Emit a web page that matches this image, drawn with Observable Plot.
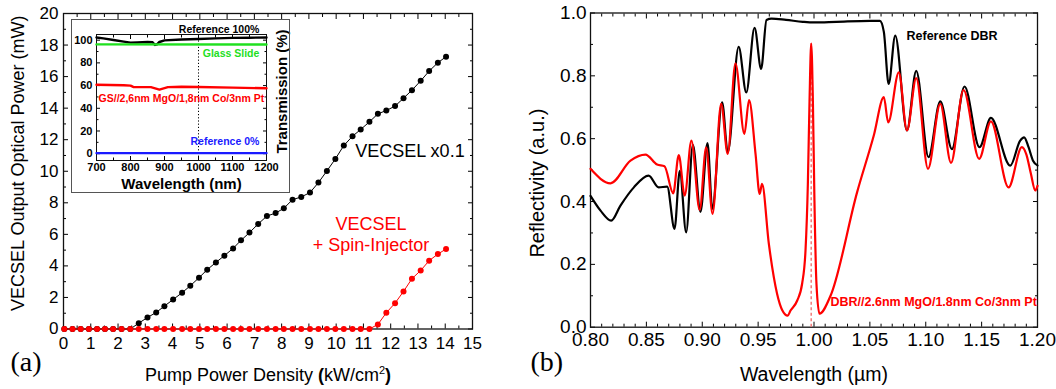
<!DOCTYPE html>
<html><head><meta charset="utf-8">
<script src="https://cdn.jsdelivr.net/npm/d3@7"></script>
<script src="https://cdn.jsdelivr.net/npm/@observablehq/plot@0.6"></script>
<style>
body{margin:0;background:#fff;}
#root{position:relative;width:1056px;height:389px;overflow:hidden;background:#fff;font-family:"Liberation Sans",Arial,sans-serif;}
.abs{position:absolute;}
svg{overflow:visible;}
</style></head><body><div id="root"></div>
<script>
// ---------- Panel (a): VECSEL output power vs pump power density ----------
const pump = [0.03,0.33,0.63,0.93,1.23,1.52,1.82,2.13,2.45,2.76,3.08,3.40,3.70,4.02,4.35,4.65,4.97,5.27,5.59,5.90,6.22,6.51,6.82,7.14,7.46,7.78,8.08,8.40,8.72,9.04,9.35,9.66,9.97,10.28,10.60,10.90,11.22,11.53,11.84,12.16,12.47,12.78,13.10,13.41,13.73,14.03];
const vecselPower = [0,0,0,0,0,0,0,0,0,0.37,0.73,1.05,1.45,1.87,2.30,2.74,3.25,3.76,4.22,4.65,5.11,5.62,6.11,6.66,7.16,7.35,7.65,8.20,8.37,8.65,9.28,10.02,10.78,11.63,12.22,12.65,13.13,13.64,13.85,14.13,14.63,15.14,15.73,16.35,16.88,17.26];
const spinPower = [0,0,0,0,0,0,0,0,0,0,0,0,0,0,0,0,0,0,0,0,0,0,0,0,0,0,0,0,0,0,0,0,0,0,0,0,0,0.29,1.03,1.64,2.38,3.19,3.71,4.33,4.75,5.07];
const aXTicks = [0,1,2,3,4,5,6,7,8,9,10,11,12,13,14,15];
const aYTicks = [0,2,4,6,8,10,12,14,16,18,20];

// ---------- Inset: transmission ----------
const ref100Wl = [700,720,750,780,800,820,850,865,872,878,885,900,950,1000,1050,1100,1150,1200];
const ref100T  = [102.4,101.6,100.2,98.7,97.8,98.0,98.4,98.2,95.8,96.4,98.4,99.8,100.6,101.1,101.6,102.0,102.2,102.3];
const glassWl = [700,1200];
const glassT  = [96.3,96.2];
const gsWl = [700,780,800,808,860,885,910,950,1000,1100,1200];
const gsT  = [60.7,60.3,60.0,58.8,58.6,56.5,58.6,59.0,58.7,58.2,57.6];
const ref0Wl = [700,1200];
const ref0T  = [0.5,0.5];
const insetXTicks = [700,800,900,1000,1100,1200];
const insetYTicks = [0,20,40,60,80,100];

// ---------- Panel (b): reflectivity spectra ----------
const refWl = [0.800,0.809,0.8185,0.8268,0.8388,0.852,0.861,0.8686,0.8752,0.8799,0.8856,0.8916,0.8984,0.9047,0.9090,0.9178,0.9228,0.9326,0.9394,0.9468,0.9527,0.9575,0.962,0.975,0.99,1.00,1.02,1.05,1.059,1.0625,1.0668,1.0727,1.0832,1.0915,1.1025,1.113,1.1234,1.1347,1.1481,1.1583,1.1756,1.1845,1.188,1.192,1.196,1.200];
const refR  = [0.418,0.371,0.339,0.387,0.445,0.4825,0.445,0.4475,0.313,0.498,0.302,0.58,0.367,0.586,0.377,0.716,0.557,0.892,0.747,0.953,0.822,0.978,0.982,0.978,0.972,0.970,0.972,0.975,0.975,0.94,0.774,0.928,0.626,0.816,0.541,0.719,0.567,0.766,0.573,0.666,0.514,0.594,0.604,0.573,0.53,0.515];
const spinWl = [0.800,0.8179,0.8358,0.8492,0.8596,0.8662,0.874,0.879,0.8843,0.8903,0.8977,0.9035,0.9092,0.9169,0.9228,0.9297,0.9377,0.9419,0.9477,0.9514,0.9535,0.9596,0.967,0.9715,0.9765,0.979,0.985,0.9894,0.9924,0.9945,0.996,0.9975,0.999,1.0004,1.0022,1.0049,1.0148,1.0386,1.0535,1.0625,1.0664,1.0759,1.0832,1.0915,1.102,1.113,1.1226,1.1338,1.1478,1.1583,1.1741,1.186,1.190,1.194,1.198,1.200];
const spinR  = [0.504,0.458,0.530,0.549,0.5175,0.512,0.426,0.548,0.419,0.594,0.373,0.5725,0.3606,0.7105,0.5515,0.84,0.615,0.723,0.551,0.424,0.456,0.265,0.106,0.055,0.037,0.053,0.085,0.139,0.244,0.456,0.721,0.903,0.721,0.403,0.138,0.043,0.10,0.43,0.61,0.732,0.652,0.811,0.626,0.793,0.504,0.711,0.523,0.755,0.536,0.655,0.445,0.573,0.55,0.49,0.435,0.45];
const bXTicks = [0.80,0.85,0.90,0.95,1.00,1.05,1.10,1.15,1.20];
const bYTicks = [0.0,0.2,0.4,0.6,0.8,1.0];

const SANS = "Liberation Sans, Arial, sans-serif";

function boxAxes({xMajor, xMinor, yMajor, yMinor, xFmt, yFmt, major, minor, fontSize, xGap, yGap, fontWeight}) {
  const none = () => "";
  return [
    Plot.axisX({ticks: xMajor, anchor: "bottom", tickSize: -major, tickPadding: xGap + major, tickFormat: xFmt, label: null, fontSize, fontWeight}),
    Plot.axisX({ticks: xMinor, anchor: "bottom", tickSize: -minor, tickFormat: none, label: null}),
    Plot.axisX({ticks: xMajor, anchor: "top", tickSize: -major, tickFormat: none, label: null}),
    Plot.axisX({ticks: xMinor, anchor: "top", tickSize: -minor, tickFormat: none, label: null}),
    Plot.axisY({ticks: yMajor, anchor: "left", tickSize: -major, tickPadding: yGap + major, tickFormat: yFmt, label: null, fontSize, fontWeight}),
    Plot.axisY({ticks: yMinor, anchor: "left", tickSize: -minor, tickFormat: none, label: null}),
    Plot.axisY({ticks: yMajor, anchor: "right", tickSize: -major, tickFormat: none, label: null}),
    Plot.axisY({ticks: yMinor, anchor: "right", tickSize: -minor, tickFormat: none, label: null})
  ];
}

const root = document.getElementById("root");
function place(el, left, top, extra) {
  const d = document.createElement("div");
  d.className = "abs";
  d.style.left = left + "px"; d.style.top = top + "px";
  if (extra) Object.assign(d.style, extra);
  d.appendChild(el);
  root.appendChild(d);
  return d;
}

// ---- Panel (a)
const rowsA = pump.map((p, i) => ({pump: p, vecsel: vecselPower[i], spin: spinPower[i]}));
const xLabelA = "Pump Power Density (kW/cm²)";
const A = Plot.plot({
  width: 520, height: 389,
  marginLeft: 63, marginRight: 48, marginTop: 13, marginBottom: 60.5,
  x: {domain: [0, 15]}, y: {domain: [0, 20]},
  style: {fontFamily: SANS, fontSize: "17px", color: "#000", background: "transparent", overflow: "visible"},
  marks: [
    ...boxAxes({xMajor: aXTicks, xMinor: d3.range(0.5, 15, 1), yMajor: aYTicks, yMinor: d3.range(1, 20, 2),
      xFmt: d3.format("d"), yFmt: d3.format("d"), major: 5, minor: 3, fontSize: 17, xGap: 8, yGap: 5}),
    Plot.frame({stroke: "#111", strokeWidth: 1.3}),
    Plot.line(rowsA, {x: "pump", y: "vecsel", stroke: "#000", strokeWidth: 1}),
    Plot.dot(rowsA, {x: "pump", y: "vecsel", fill: "#000", r: 3}),
    Plot.line(rowsA, {x: "pump", y: "spin", stroke: "#ff0000", strokeWidth: 1}),
    Plot.dot(rowsA, {x: "pump", y: "spin", fill: "#ff0000", r: 3}),
    Plot.text(["VECSEL x0.1"], {x: 10.7, y: 10.9, textAnchor: "start", lineAnchor: "bottom", fontSize: 18, fill: "#000"}),
    Plot.text(["VECSEL\n+ Spin-Injector"], {x: 11.28, y: 4.94, textAnchor: "middle", lineAnchor: "bottom", lineHeight: 1.15, fontSize: 18, fill: "#ff0000"}),
    Plot.text(["VECSEL Output Optical Power (mW)"], {frameAnchor: "left", rotate: -90, dx: -45, dy: -8, fontSize: 18, textAnchor: "middle", lineAnchor: "middle"}),
    Plot.text([xLabelA], {frameAnchor: "bottom", dy: 51.5, textAnchor: "middle", lineAnchor: "bottom", fontSize: 18}),
    Plot.text(["(a)"], {frameAnchor: "bottom-left", dx: -53, dy: 41.5, textAnchor: "start", lineAnchor: "bottom", fontSize: 28, fontFamily: "Liberation Serif, Times New Roman, serif"})
  ]
});
for (const t of A.querySelectorAll("text")) {
  if (t.textContent === xLabelA) {
    t.innerHTML = 'Pump Power Density <tspan font-weight="bold">(</tspan>kW/cm<tspan font-size="11" dy="-7">2</tspan><tspan font-weight="bold" dy="7">)</tspan>';
  }
}
place(A, 0, 0, {width: "520px"});

// ---- Inset
const seriesInset = [
  {wl: ref100Wl, t: ref100T, color: "#000000"},
  {wl: glassWl, t: glassT, color: "#1fe01f"},
  {wl: gsWl, t: gsT, color: "#ff0000"},
  {wl: ref0Wl, t: ref0T, color: "#1a1aff"}
];
const rowsInset = seriesInset.flatMap((s, k) => s.wl.map((w, i) => ({wl: w, t: s.t[i], k})));
const insetLabelsRight = [
  {text: "Reference 100%", x: 1179, y: 106.6, color: "#000000"},
  {text: "Glass Slide", x: 1179, y: 84.8, color: "#1fe01f"},
  {text: "Reference 0%", x: 1179, y: 7.3, color: "#1a1aff"}
];
const insetLabelsLeft = [
  {text: "GS//2,6nm MgO/1,8nm Co/3nm Pt", x: 706, y: 45.4, color: "#ff0000"}
];
const I = Plot.plot({
  width: 217, height: 172,
  marginLeft: 24, marginRight: 23, marginTop: 14, marginBottom: 32,
  x: {domain: [700, 1200]}, y: {domain: [-6, 105]},
  style: {fontFamily: SANS, fontSize: "11px", fontWeight: "bold", color: "#000", background: "#fff", overflow: "visible"},
  marks: [
    Plot.ruleX([1000], {stroke: "#000", strokeWidth: 1, strokeDasharray: "1.2,2"}),
    ...boxAxes({xMajor: insetXTicks, xMinor: d3.range(750, 1200, 100), yMajor: insetYTicks, yMinor: d3.range(10, 100, 20),
      xFmt: d3.format("d"), yFmt: d3.format("d"), major: 4, minor: 2.5, fontSize: 11, xGap: 3, yGap: 4, fontWeight: "bold"}),
    Plot.frame({stroke: "#111", strokeWidth: 1}),
    Plot.line(rowsInset, {x: "wl", y: "t", z: "k", stroke: d => seriesInset[d.k].color, strokeWidth: 2.4}),
    Plot.text(insetLabelsRight, {x: "x", y: "y", text: "text", fill: d => d.color, textAnchor: "end", lineAnchor: "bottom", fontSize: 10.5, fontWeight: "bold"}),
    Plot.text(insetLabelsLeft, {x: "x", y: "y", text: "text", fill: d => d.color, textAnchor: "start", lineAnchor: "bottom", fontSize: 10.5, fontWeight: "bold"}),
    Plot.text(["Wavelength (nm)"], {frameAnchor: "bottom", dy: 28, textAnchor: "middle", lineAnchor: "bottom", fontSize: 15, fontWeight: "bold"}),
    Plot.text(["Transmission (%)"], {frameAnchor: "right", rotate: -90, dx: 15.5, dy: -6, textAnchor: "middle", lineAnchor: "middle", fontSize: 15, fontWeight: "bold"})
  ]
});
place(I, 72, 20, {width: "217px", outline: "1.5px solid #555", background: "#fff"});

// ---- Panel (b)
const rowsRef = refWl.map((w, i) => ({wl: w, r: refR[i]}));
const rowsSpin = spinWl.map((w, i) => ({wl: w, r: spinR[i]}));
const peak = rowsSpin[d3.maxIndex(rowsSpin, d => d.r)];
const B = Plot.plot({
  width: 536, height: 389,
  marginLeft: 70, marginRight: 19, marginTop: 12.5, marginBottom: 62.3,
  x: {domain: [0.8, 1.2]}, y: {domain: [0, 1]},
  style: {fontFamily: SANS, fontSize: "19px", color: "#000", background: "transparent", overflow: "visible"},
  marks: [
    ...boxAxes({xMajor: bXTicks, xMinor: d3.range(0.81, 1.2, 0.01).filter(v => Math.abs(v * 20 - Math.round(v * 20)) > 0.01), yMajor: bYTicks, yMinor: [0.1, 0.3, 0.5, 0.7, 0.9],
      xFmt: d3.format(".2f"), yFmt: d3.format(".1f"), major: 5, minor: 3, fontSize: 19, xGap: 5, yGap: 4}),
    Plot.frame({stroke: "#111", strokeWidth: 1.3}),
    Plot.ruleX([peak], {x: "wl", y1: 0, y2: "r", stroke: "#f27a7a", strokeWidth: 1.5, strokeDasharray: "3,2.5"}),
    Plot.line(rowsRef, {x: "wl", y: "r", stroke: "#000", strokeWidth: 2.2, curve: "monotone-x"}),
    Plot.line(rowsSpin, {x: "wl", y: "r", stroke: "#ff0000", strokeWidth: 2.2, curve: "monotone-x"}),
    Plot.text(["Reference DBR"], {x: 1.0828, y: 0.915, textAnchor: "start", lineAnchor: "bottom", fontSize: 12.5, fontWeight: "bold", fill: "#000"}),
    Plot.text(["DBR//2.6nm MgO/1.8nm Co/3nm Pt"], {x: 1.0148, y: 0.066, textAnchor: "start", lineAnchor: "bottom", fontSize: 12.5, fontWeight: "bold", fill: "#ff0000"}),
    Plot.text(["Reflectivity (a.u.)"], {frameAnchor: "left", rotate: -90, dx: -53, dy: 13, textAnchor: "middle", lineAnchor: "middle", fontSize: 20}),
    Plot.text(["Wavelength (µm)"], {frameAnchor: "bottom", dy: 53.3, textAnchor: "middle", lineAnchor: "bottom", fontSize: 19.5}),
    Plot.text(["(b)"], {frameAnchor: "bottom-left", dx: -60, dy: 43.3, textAnchor: "start", lineAnchor: "bottom", fontSize: 28, fontFamily: "Liberation Serif, Times New Roman, serif"})
  ]
});
place(B, 520, 0, {width: "536px"});
</script>
</body></html>
